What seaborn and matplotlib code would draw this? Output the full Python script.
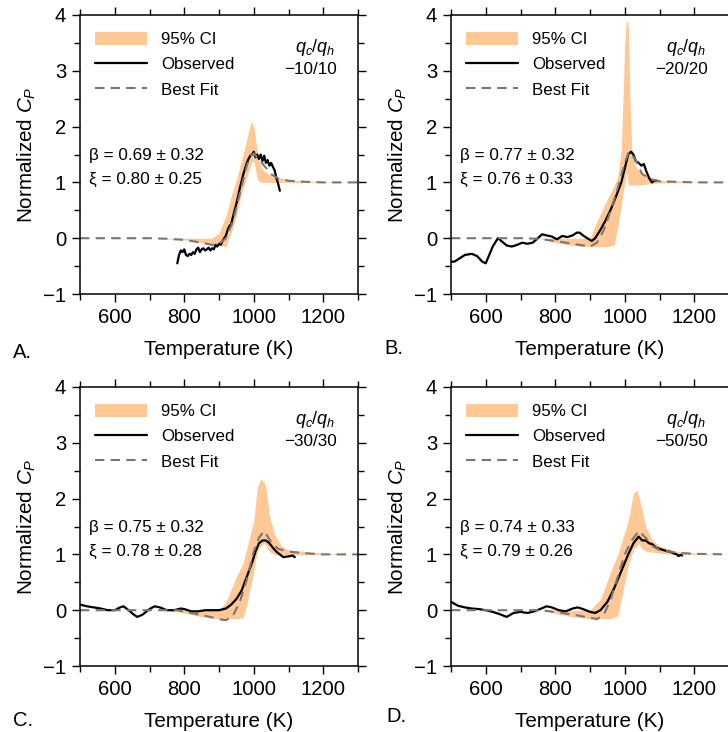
import numpy as np
import pandas as pd
import matplotlib
matplotlib.use("Agg")
import matplotlib.pyplot as plt
import seaborn as sns
from matplotlib.ticker import MultipleLocator

sns.set_style("ticks")
plt.rcParams['font.family'] = ['Liberation Sans', 'DejaVu Sans']
plt.rcParams['mathtext.fontset'] = 'custom'
plt.rcParams['mathtext.rm'] = 'Liberation Sans'
plt.rcParams['mathtext.it'] = 'Liberation Sans:italic'
plt.rcParams['text.color'] = 'black'
plt.rcParams['axes.labelcolor'] = 'black'
plt.rcParams['xtick.color'] = 'black'
plt.rcParams['ytick.color'] = 'black'
plt.rcParams['xtick.labelcolor'] = 'black'
plt.rcParams['ytick.labelcolor'] = 'black'

# ---------------- data ----------------
panel_letters = ["A.", "B.", "C.", "D."]
rate_labels = ["\u221210/10", "\u221220/20", "\u221230/30", "\u221250/50"]
beta_text = ["\u03b2 = 0.69 \u00b1 0.32", "\u03b2 = 0.77 \u00b1 0.32",
             "\u03b2 = 0.75 \u00b1 0.32", "\u03b2 = 0.74 \u00b1 0.33"]
xi_text = ["\u03be = 0.80 \u00b1 0.25", "\u03be = 0.76 \u00b1 0.33",
           "\u03be = 0.78 \u00b1 0.28", "\u03be = 0.79 \u00b1 0.26"]

# Best fit curves
fit_T_A = [500, 600, 700, 750, 800, 850, 880, 900, 920, 940, 960, 980, 990, 1000, 1010, 1030, 1050, 1070, 1100, 1150, 1200, 1300]
fit_A = [0.0, 0.0, 0.0, -0.01, -0.03, -0.08, -0.12, -0.10, 0.0, 0.3, 0.8, 1.3, 1.47, 1.52, 1.45, 1.3, 1.15, 1.07, 1.03, 1.01, 1.0, 1.0]
fit_T_B = [500, 600, 700, 750, 800, 850, 900, 920, 940, 960, 980, 1000, 1012, 1030, 1050, 1080, 1100, 1150, 1200, 1300]
fit_B = [0.0, 0.0, 0.0, -0.01, -0.05, -0.10, -0.15, -0.08, 0.15, 0.5, 0.9, 1.35, 1.55, 1.42, 1.15, 1.05, 1.02, 1.01, 1.0, 1.0]
fit_T_C = [500, 600, 700, 780, 820, 860, 900, 920, 940, 960, 980, 1000, 1015, 1030, 1050, 1070, 1100, 1150, 1200, 1300]
fit_C = [0.0, 0.0, 0.0, 0.0, -0.05, -0.10, -0.16, -0.18, -0.1, 0.15, 0.55, 1.05, 1.3, 1.42, 1.22, 1.1, 1.05, 1.02, 1.0, 1.0]
fit_T_D = [500, 600, 700, 760, 820, 870, 920, 940, 960, 980, 1000, 1020, 1040, 1060, 1080, 1100, 1150, 1200, 1300]
fit_D = [0.0, 0.0, 0.0, 0.0, -0.05, -0.10, -0.16, -0.08, 0.2, 0.6, 1.0, 1.25, 1.42, 1.3, 1.15, 1.08, 1.03, 1.01, 1.0]

# 95% CI bands
ci_T_A = [500, 600, 700, 750, 800, 850, 880, 900, 920, 935, 950, 965, 980, 993, 1000, 1010, 1020, 1030, 1050, 1070, 1100, 1150, 1200, 1300]
ci_lo_A = [0.0, 0.0, 0.0, -0.01, -0.03, -0.08, -0.11, -0.13, -0.15, 0.1, 0.4, 0.8, 1.1, 1.35, 1.4, 1.05, 1.0, 1.0, 1.0, 1.0, 1.0, 1.0, 1.0, 1.0]
ci_hi_A = [0.0, 0.0, 0.0, 0.0, 0.0, 0.0, 0.0, 0.09, 0.4, 0.75, 1.05, 1.4, 1.77, 2.1, 2.0, 1.55, 1.3, 1.2, 1.13, 1.09, 1.05, 1.02, 1.01, 1.0]
ci_T_B = [500, 600, 700, 750, 800, 850, 900, 920, 950, 970, 980, 990, 995, 1000, 1005, 1010, 1015, 1020, 1030, 1050, 1080, 1100, 1200, 1300]
ci_lo_B = [0.0, 0.0, 0.0, 0.0, -0.08, -0.13, -0.15, -0.15, -0.15, -0.12, 0.2, 0.6, 0.8, 1.0, 1.2, 0.95, 0.95, 0.95, 0.95, 0.96, 0.98, 0.99, 1.0, 1.0]
ci_hi_B = [0.0, 0.0, 0.0, 0.0, 0.0, 0.0, 0.0, 0.3, 0.7, 0.95, 1.1, 1.6, 2.5, 3.5, 3.9, 3.85, 2.5, 1.6, 1.3, 1.15, 1.08, 1.04, 1.01, 1.0]
ci_T_C = [500, 600, 700, 750, 800, 850, 900, 920, 950, 970, 980, 1000, 1010, 1020, 1030, 1035, 1045, 1060, 1080, 1100, 1200, 1300]
ci_lo_C = [0.0, 0.0, 0.0, 0.0, -0.05, -0.12, -0.15, -0.15, -0.15, -0.13, 0.1, 0.7, 1.05, 1.15, 1.2, 1.15, 1.05, 1.0, 0.99, 0.99, 1.0, 1.0]
ci_hi_C = [0.0, 0.0, 0.0, 0.0, 0.0, 0.0, 0.0, 0.15, 0.6, 0.85, 1.1, 1.6, 2.2, 2.35, 2.3, 2.2, 1.7, 1.35, 1.15, 1.08, 1.02, 1.0]
ci_T_D = [500, 600, 700, 760, 800, 850, 900, 930, 960, 980, 990, 1010, 1025, 1035, 1040, 1050, 1060, 1080, 1100, 1150, 1200, 1300]
ci_lo_D = [0.0, 0.0, 0.0, 0.0, -0.06, -0.12, -0.15, -0.15, -0.15, -0.1, 0.2, 0.8, 1.1, 1.15, 1.2, 1.1, 1.06, 1.04, 1.02, 1.0, 1.0, 1.0]
ci_hi_D = [0.0, 0.0, 0.0, 0.0, 0.0, 0.0, 0.0, 0.2, 0.7, 1.0, 1.2, 1.6, 2.1, 2.15, 2.05, 1.8, 1.5, 1.25, 1.15, 1.05, 1.02, 1.0]

# Observed curves
obs_T_A = [780, 785, 790, 795, 800, 805, 810, 815, 820, 825, 830, 835, 840, 845, 850, 855, 860, 865, 870, 875, 880, 885, 890, 895, 900, 905, 910, 915, 920, 925, 930, 935, 940, 945, 950, 955, 960, 965, 970, 975, 980, 985, 990, 995, 1000, 1005, 1010, 1015, 1020, 1025, 1030, 1035, 1040, 1045, 1050, 1055, 1060, 1065, 1070, 1075]
obs_A = [-0.45, -0.3, -0.22, -0.25, -0.2, -0.3, -0.32, -0.28, -0.3, -0.25, -0.28, -0.2, -0.17, -0.25, -0.2, -0.18, -0.22, -0.2, -0.17, -0.22, -0.18, -0.2, -0.12, -0.15, -0.1, -0.12, -0.05, 0.0, 0.05, 0.15, 0.22, 0.25, 0.38, 0.5, 0.62, 0.75, 0.9, 1.02, 1.15, 1.25, 1.35, 1.42, 1.48, 1.5, 1.55, 1.45, 1.5, 1.42, 1.5, 1.38, 1.48, 1.35, 1.4, 1.3, 1.35, 1.28, 1.22, 1.08, 0.98, 0.85]
obs_T_B = [500, 510, 520, 540, 560, 575, 590, 600, 610, 620, 635, 645, 660, 675, 690, 705, 720, 735, 750, 762, 775, 790, 805, 820, 835, 850, 862, 870, 880, 892, 905, 915, 930, 945, 960, 975, 990, 1000, 1010, 1018, 1025, 1032, 1040, 1048, 1055, 1062, 1070, 1078, 1085, 1092]
obs_B = [-0.42, -0.42, -0.38, -0.3, -0.28, -0.32, -0.42, -0.45, -0.3, -0.15, 0.0, -0.05, -0.13, -0.15, -0.12, -0.08, -0.1, -0.08, 0.0, 0.07, 0.05, 0.03, -0.02, 0.04, 0.02, 0.05, 0.1, 0.1, 0.05, 0.0, -0.05, 0.0, 0.15, 0.32, 0.52, 0.75, 1.0, 1.25, 1.5, 1.55, 1.5, 1.38, 1.35, 1.3, 1.33, 1.2, 1.08, 1.0, 1.03, 1.03]
obs_T_C = [500, 520, 540, 560, 580, 600, 615, 625, 640, 655, 665, 680, 700, 715, 730, 750, 770, 790, 800, 820, 840, 860, 880, 900, 920, 935, 950, 965, 980, 995, 1005, 1015, 1025, 1035, 1045, 1055, 1065, 1075, 1085, 1095, 1105, 1112, 1118]
obs_C = [0.1, 0.07, 0.05, 0.03, 0.0, 0.0, 0.05, 0.07, 0.0, -0.08, -0.12, -0.08, 0.02, 0.07, 0.05, 0.0, 0.0, 0.03, 0.02, -0.02, -0.02, 0.0, 0.0, 0.0, 0.03, 0.1, 0.2, 0.35, 0.6, 0.85, 1.05, 1.2, 1.25, 1.25, 1.2, 1.12, 1.05, 1.0, 0.95, 0.96, 0.97, 0.98, 0.95]
obs_T_D = [500, 520, 540, 560, 580, 600, 620, 640, 660, 680, 700, 720, 740, 760, 775, 790, 810, 830, 850, 865, 880, 900, 915, 930, 950, 970, 990, 1010, 1025, 1040, 1050, 1060, 1070, 1080, 1090, 1100, 1110, 1120, 1130, 1140, 1150, 1155, 1160, 1165]
obs_D = [0.15, 0.08, 0.05, 0.03, 0.02, 0.0, -0.03, -0.07, -0.12, -0.05, -0.03, -0.05, -0.02, 0.03, 0.07, 0.05, 0.0, -0.02, 0.03, 0.05, 0.02, -0.03, -0.05, 0.0, 0.15, 0.4, 0.7, 1.0, 1.2, 1.32, 1.25, 1.25, 1.2, 1.18, 1.12, 1.1, 1.08, 1.06, 1.05, 1.02, 1.0, 0.97, 0.99, 0.98]

fits = [(fit_T_A, fit_A), (fit_T_B, fit_B), (fit_T_C, fit_C), (fit_T_D, fit_D)]
cis = [(ci_T_A, ci_lo_A, ci_hi_A), (ci_T_B, ci_lo_B, ci_hi_B),
       (ci_T_C, ci_lo_C, ci_hi_C), (ci_T_D, ci_lo_D, ci_hi_D)]
obs = [(obs_T_A, obs_A), (obs_T_B, obs_B), (obs_T_C, obs_C), (obs_T_D, obs_D)]

# ---------------- figure ----------------
W, H = 728, 732
fig = plt.figure(figsize=(W / 100, H / 100), dpi=100)

ax_px = [(80, 15), (451, 15), (80, 387), (451, 387)]  # left, top in pixels
aw, ah = 278, 279
letter_pos = [(13, 352), (384, 349), (13, 721), (386, 717)]

band_color = '#FFC894'
fit_color = '#777777'

for i in range(4):
    l, t = ax_px[i]
    ax = fig.add_axes([l / W, 1 - (t + ah) / H, aw / W, ah / H])
    T, lo, hi = cis[i]
    band = ax.fill_between(T, lo, hi, color=band_color, lw=0, label='95% CI')
    fT, fY = fits[i]
    oT, oY = obs[i]
    sns.lineplot(x=oT, y=oY, ax=ax, color='black', lw=1.6, estimator=None,
                 sort=False, label='Observed')
    sns.lineplot(x=fT, y=fY, ax=ax, color=fit_color, lw=1.5, estimator=None,
                 sort=False, label='Best Fit', dashes=False)
    obs_line = ax.lines[0]
    fit_line = ax.lines[1]
    fit_line.set_dashes((4.5, 3))

    ax.set_xlim(500, 1300)
    ax.set_ylim(-1, 4)
    ax.yaxis.set_major_locator(MultipleLocator(1))
    ax.yaxis.set_minor_locator(MultipleLocator(0.5))
    ax.set_xticks([600, 800, 1000, 1200])
    ax.set_xticks([500, 700, 900, 1100, 1300], minor=True)
    ax.tick_params(which='both', direction='out', top=True, right=True,
                   width=1.0, color='black')
    ax.tick_params(which='major', length=5.5, labelsize=14.6, pad=4.5)
    ax.tick_params(which='minor', length=4)
    for s in ax.spines.values():
        s.set_visible(True)
        s.set_linewidth(1.1)
        s.set_color('black')

    ax.set_xlabel('Temperature (K)', fontsize=14.9, labelpad=9.5)
    ax.set_ylabel('Normalized $C_P$', fontsize=14.9, labelpad=3.5)

    leg = ax.legend(handles=[band, obs_line, fit_line],
                    labels=['95% CI', 'Observed', 'Best Fit'],
                    loc='upper left', bbox_to_anchor=(0.055, 0.94),
                    frameon=False, fontsize=12.2, handlelength=3.05,
                    handletextpad=0.83, labelspacing=0.58, borderpad=0,
                    borderaxespad=0, handleheight=0.8)

    ax.text(0.845, 0.885, '$q_c/q_h$', transform=ax.transAxes, fontsize=13,
            ha='center', va='center')
    ax.text(0.83, 0.803, rate_labels[i], transform=ax.transAxes, fontsize=12.3,
            ha='center', va='center')
    ax.text(0.032, 0.495, beta_text[i], transform=ax.transAxes, fontsize=12.3,
            ha='left', va='center')
    ax.text(0.032, 0.412, xi_text[i], transform=ax.transAxes, fontsize=12.3,
            ha='left', va='center')

    lx, ly = letter_pos[i]
    fig.text(lx / W, 1 - ly / H, panel_letters[i], fontsize=14.5, ha='left',
             va='center')

fig.savefig('out.png', dpi=100)
